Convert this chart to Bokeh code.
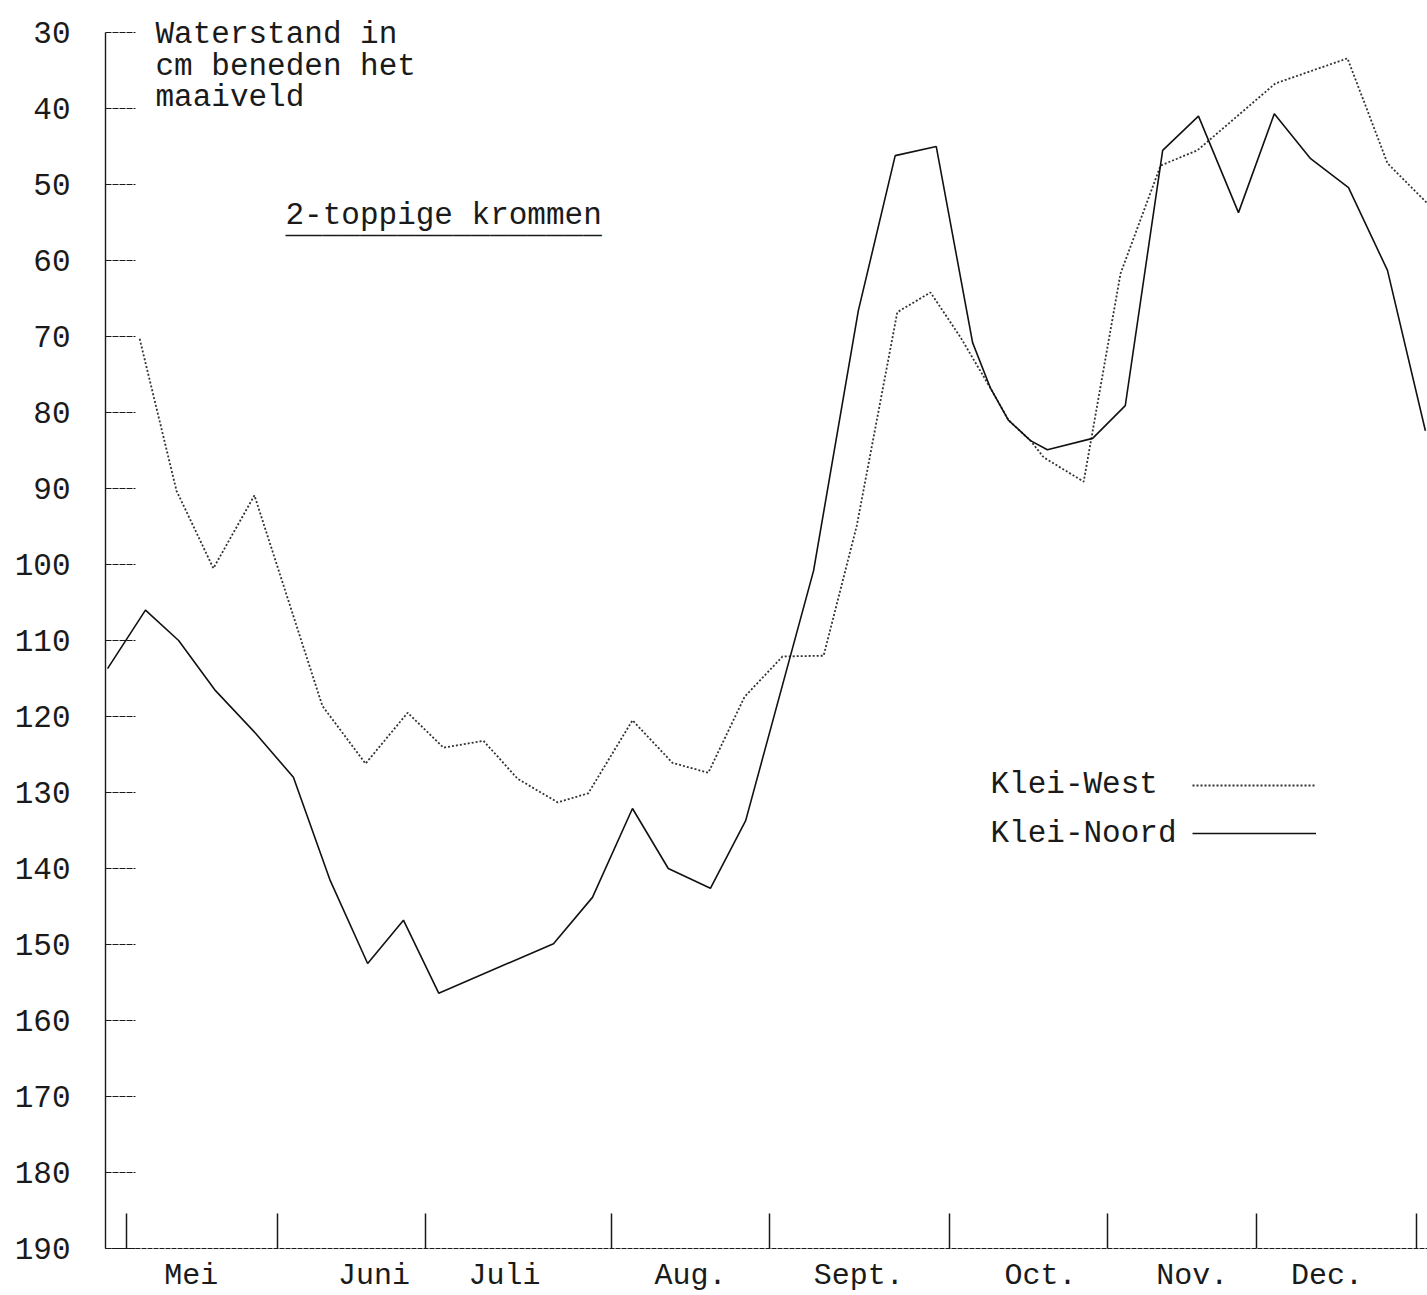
from bokeh.plotting import figure
from bokeh.models import Range1d, FixedTicker, Label, Legend, LegendItem
from bokeh.embed import file_html
from bokeh.resources import INLINE

# ---- data (x = days after 1 May; y = cm below surface) ----
west_day = [2.5, 9.5, 16.5, 24.3, 37.2, 45.4, 53.4, 60.2, 67.8, 74.3, 81.9, 87.7,
            96.1, 103.7, 110.5, 117.4, 124.6, 132.4, 138.7, 146.4, 152.7, 158.4,
            164.1, 167.5, 171.7, 174.2, 181.8, 188.8, 196.4, 203.4, 218.2, 231.9,
            239.5, 247.1]
west_cm = [70.3, 90.3, 100.5, 90.9, 118.6, 126.2, 119.5, 124.1, 123.2, 128.2, 131.3,
           130.1, 120.5, 126.1, 127.4, 117.4, 112.1, 112.0, 94.9, 66.8, 64.2, 70.1,
           76.8, 81.0, 83.7, 85.9, 89.1, 61.7, 47.5, 45.5, 36.7, 33.4, 47.2, 52.5]

noord_day = [-3.6, 3.6, 9.9, 16.9, 24.5, 31.7, 38.7, 45.8, 52.6, 59.3, 81.1, 88.5,
             96.1, 102.9, 110.9, 117.6, 130.5, 139.0, 146.0, 153.8, 160.7, 164.1,
             167.5, 171.7, 174.9, 183.5, 189.7, 196.8, 203.6, 211.2, 218.0, 224.9,
             232.1, 239.5, 246.7]
noord_cm = [113.7, 106.0, 110.0, 116.6, 122.2, 128.0, 141.6, 152.5, 146.8, 156.4,
            149.9, 143.8, 132.1, 140.0, 142.6, 133.7, 100.8, 66.6, 46.2, 45.0, 70.8,
            76.8, 81.0, 83.7, 84.9, 83.4, 79.1, 45.5, 41.0, 53.7, 40.7, 46.6, 50.4,
            61.3, 82.4]

month_boundaries = [0, 28.7, 56.8, 92.1, 122.1, 156.3, 186.3, 214.6, 245.0]
month_label_pos = [12.3, 47.0, 71.8, 107.1, 139.1, 173.6, 202.4, 228.0]
month_labels = ["Mei", "Juni", "Juli", "Aug.", "Sept.", "Oct.", "Nov.", "Dec."]
y_ticks = [30, 40, 50, 60, 70, 80, 90, 100, 110, 120, 130, 140, 150, 160, 170, 180, 190]

FONT = "Liberation Mono"
INK = "#1a1a1a"

p = figure(width=1427, height=1295, output_backend="svg", toolbar_location=None,
           x_range=Range1d(-3.99, 247.1), y_range=Range1d(190, 26.97),
           min_border_left=105, min_border_right=0, min_border_top=9,
           min_border_bottom=47)
p.outline_line_color = None
p.xgrid.visible = False
p.ygrid.visible = False
p.background_fill_color = "white"
p.border_fill_color = "white"

# y axis (line only from 30 to 190)
ya = p.yaxis[0]
ya.ticker = FixedTicker(ticks=y_ticks, minor_ticks=[])
ya.bounds = (30, 190)
ya.axis_line_color = INK
ya.axis_line_width = 1.4
ya.major_tick_in = 30
ya.major_tick_out = 0
ya.major_tick_line_color = INK
ya.major_tick_line_width = 1.2
ya.major_tick_line_dash = "6 1"
ya.minor_tick_line_color = None
ya.major_label_standoff = 35
ya.major_label_text_font = FONT
ya.major_label_text_font_size = "31px"
ya.major_label_text_color = INK

# x axis: month boundaries as (minor) ticks, month names between them
xa = p.xaxis[0]
xa.ticker = FixedTicker(ticks=month_label_pos, minor_ticks=month_boundaries)
xa.major_label_overrides = {pos: lab for pos, lab in zip(month_label_pos, month_labels)}
xa.axis_line_color = INK
xa.axis_line_width = 1.2
xa.axis_line_dash = "5 1"
xa.major_tick_in = 0
xa.major_tick_out = 0
xa.minor_tick_in = 35
xa.minor_tick_out = 0
xa.minor_tick_line_color = INK
xa.minor_tick_line_width = 1.5
xa.major_label_standoff = 10
xa.major_label_text_font = FONT
xa.major_label_text_font_size = "30px"
xa.major_label_text_color = INK

# lines
west = p.line(west_day, west_cm, line_color="#333333", line_width=1.8, line_dash="2 2")
noord = p.line(noord_day, noord_cm, line_color="#111111", line_width=1.6)

# axis title (typed in the corner)
for txt, yy in [("Waterstand in", 30.25), ("cm beneden het", 34.46), ("maaiveld", 38.54)]:
    p.add_layout(Label(x=5.5, y=yy, text=txt, text_font=FONT, text_font_size="31px",
                       text_color=INK, text_baseline="alphabetic", text_align="left"))

# subtitle, underlined
p.add_layout(Label(x=30.2, y=54.1, text="2-toppige krommen", text_font=FONT,
                   text_font_size="31px", text_color=INK, text_baseline="alphabetic"))
p.add_layout(Label(x=30.2, y=55.3, text="_" * 17, text_font=FONT,
                   text_font_size="31px", text_color=INK, text_baseline="alphabetic"))

# legend: names on the left, line samples on the right
p.add_layout(Label(x=164.1, y=129.0, text="Klei-West", text_font=FONT,
                   text_font_size="31px", text_color=INK, text_baseline="alphabetic"))
p.add_layout(Label(x=164.1, y=135.4, text="Klei-Noord", text_font=FONT,
                   text_font_size="31px", text_color=INK, text_baseline="alphabetic"))
legend = Legend(items=[LegendItem(label=" ", renderers=[west]),
                       LegendItem(label=" ", renderers=[noord])],
                location=(1087, 397), glyph_width=124, glyph_height=36, spacing=12,
                padding=0, margin=0, label_standoff=0, label_text_font_size="8px",
                border_line_color=None, background_fill_alpha=0)
p.add_layout(legend)

open("out.html", "w").write(file_html(p, INLINE))
